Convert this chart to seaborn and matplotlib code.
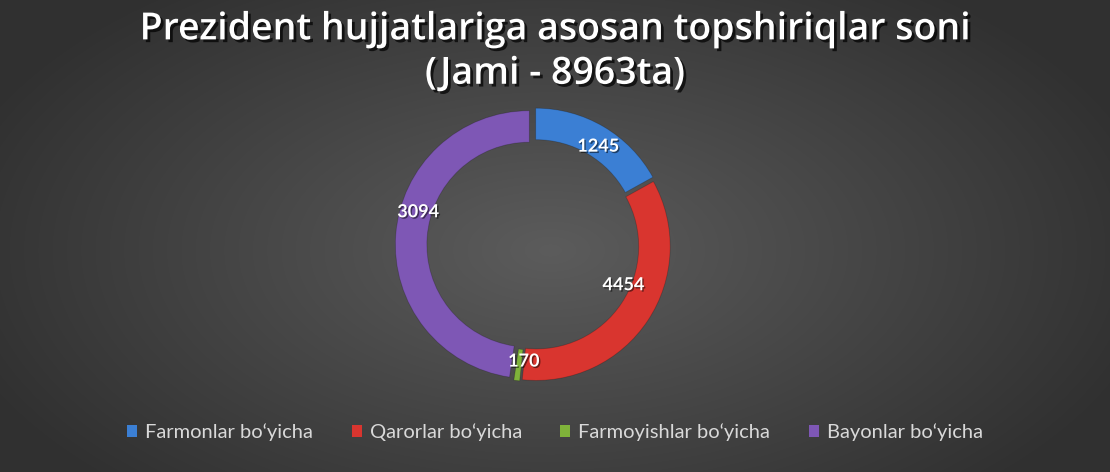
import numpy as np
import matplotlib
matplotlib.use("Agg")
import matplotlib.pyplot as plt
import matplotlib.patheffects as pe
import seaborn as sns

# printed numbers
categories = ["Farmonlar bo‘yicha", "Qarorlar bo‘yicha", "Farmoyishlar bo‘yicha", "Bayonlar bo‘yicha"]
values = [1245, 4454, 170, 3094]
# arc sizes as they appear in the picture (degrees)
arc_deg = [61, 125, 2.5, 171.5]
colors = ["#3b7fd4", "#d9352f", "#7fb33a", "#7e57b5"]

sns.set_theme(style="dark")
plt.rcParams["font.family"] = ["Lato", "DejaVu Sans"]

fig = plt.figure(figsize=(11.1, 4.72), dpi=100)

# radial gray background
bg = fig.add_axes([0, 0, 1, 1], zorder=0)
yy, xx = np.mgrid[0:472, 0:1110]
d = np.sqrt(((xx - 550) / 620.0) ** 2 + ((yy - 250) / 330.0) ** 2)
shade = np.clip(0.36 - 0.17 * d, 0.19, 0.36)
bg.imshow(np.dstack([shade] * 3), aspect="auto", extent=[0, 1, 0, 1])
bg.axis("off")

w_px, h_px = 1110, 472
size = 300
cx, cy = 534, 245
ax = fig.add_axes([(cx - size / 2) / w_px, 1 - (cy + size / 2) / h_px, size / w_px, size / h_px], zorder=1)
ax.set_facecolor("none")

wedges, _ = ax.pie(arc_deg, colors=colors, startangle=90, counterclock=False,
                   explode=[0.025, 0.02, 0.02, 0.035],
                   wedgeprops=dict(width=0.235, edgecolor=(0, 0, 0, 0.2), linewidth=0.6))
ax.set_xlim(-1.12, 1.12)
ax.set_ylim(-1.12, 1.12)
ax.set_aspect("equal")

# label positions (angle clockwise from top, radius)
label_pos = [(33, 0.88), (114, 0.73), (185, 0.87), (286, 0.90)]
for v, (ang, r) in zip(values, label_pos):
    t = np.deg2rad(ang)
    ax.text(r * np.sin(t), r * np.cos(t), str(v), ha="center", va="center",
            color="white", fontsize=13, fontweight="bold",
            path_effects=[pe.withSimplePatchShadow(offset=(1, -1), shadow_rgbFace="black", alpha=0.5)])

fig.text(0.5, 0.978, "Prezident hujjatlariga asosan topshiriqlar soni\n(Jami - 8963ta)",
         ha="center", va="top", color="white", fontsize=27, fontweight="semibold",
         family=["Open Sans", "DejaVu Sans"], linespacing=1.22,
         path_effects=[pe.withSimplePatchShadow(offset=(2, -2), shadow_rgbFace="black", alpha=0.7)])

handles = [plt.Rectangle((0, 0), 1, 1, facecolor=c, edgecolor="none") for c in colors]
fig.legend(handles, categories, loc="center", bbox_to_anchor=(0.5, 1 - 432 / h_px),
           ncol=4, frameon=False, fontsize=14.5, labelcolor="#d9d9d9",
           handlelength=0.5, handleheight=0.5, handletextpad=0.4, columnspacing=1.9)

fig.savefig("out.png", dpi=100)
